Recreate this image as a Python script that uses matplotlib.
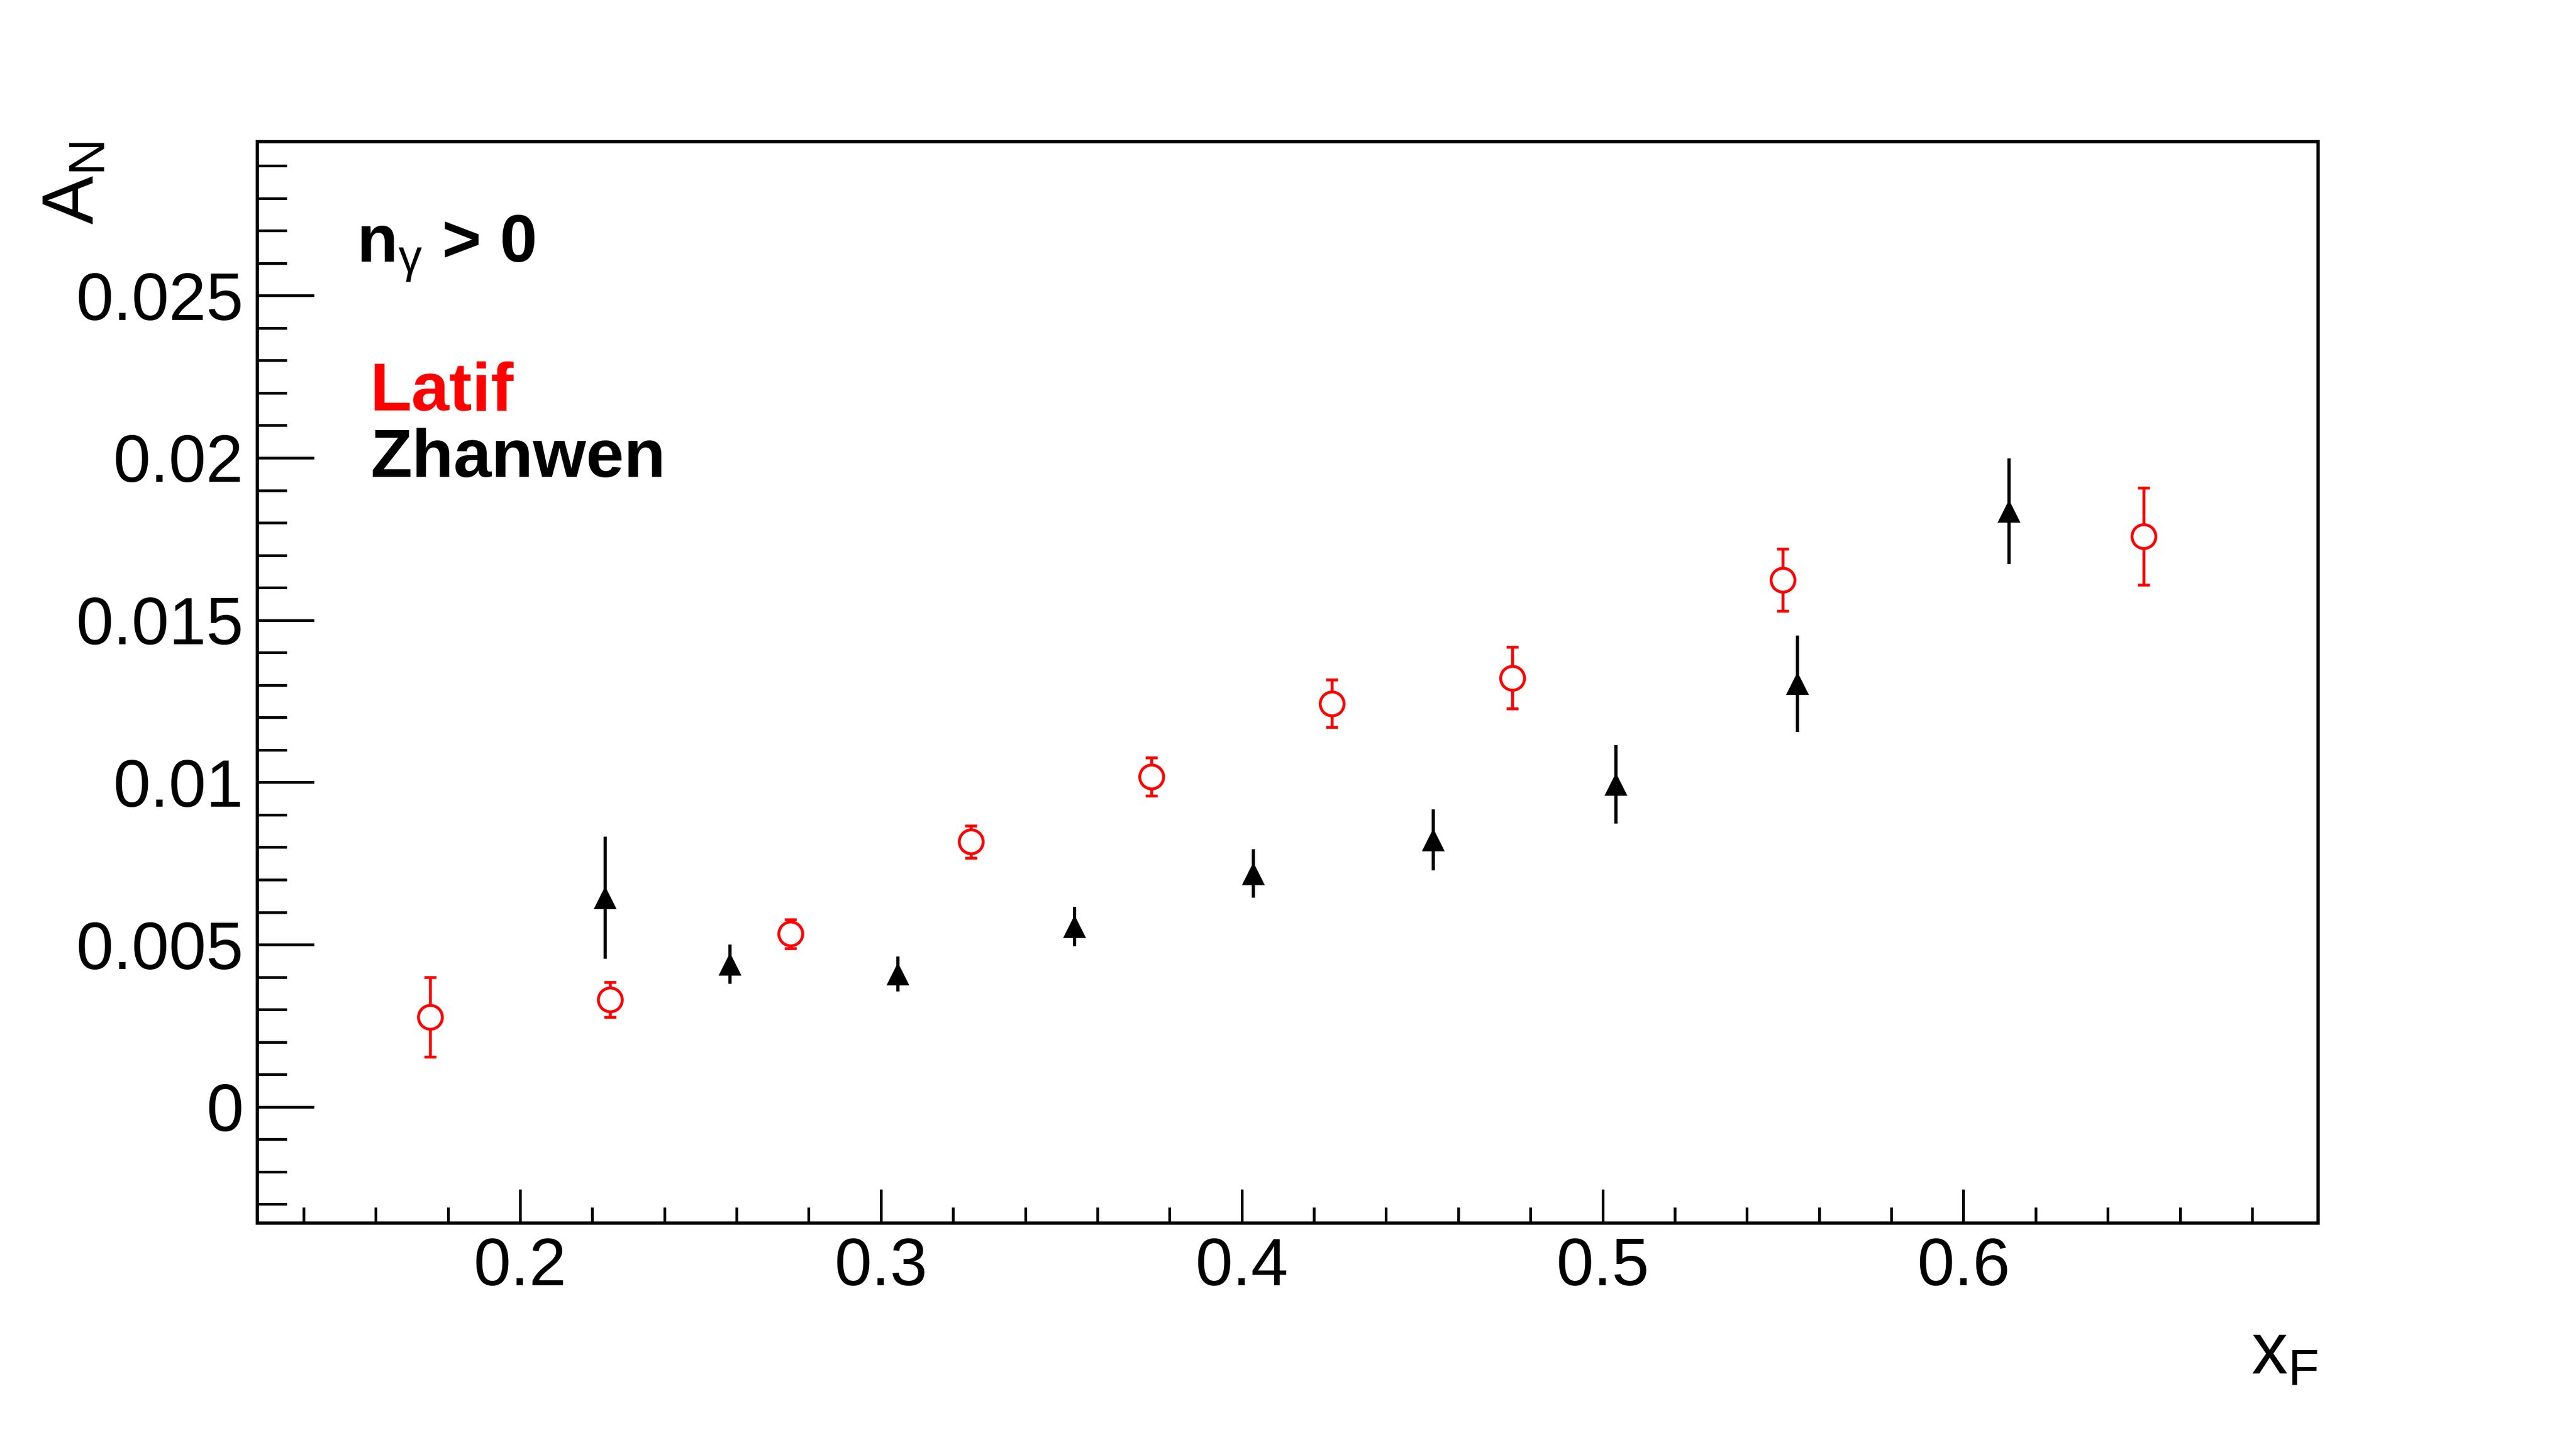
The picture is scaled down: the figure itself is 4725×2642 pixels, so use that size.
import matplotlib
matplotlib.use("Agg")
import matplotlib.pyplot as plt
from matplotlib.ticker import MultipleLocator, FixedLocator, FixedFormatter

# data (x_F, A_N, error)
latif_x = [0.175, 0.225, 0.275, 0.325, 0.375, 0.425, 0.475, 0.55, 0.65]
latif_y = [0.00277, 0.0033, 0.00533, 0.00817, 0.01017, 0.01243, 0.01322, 0.01624, 0.01758]
latif_err = [0.00122, 0.00054, 0.00045, 0.00049, 0.00059, 0.00073, 0.00095, 0.00096, 0.00149]

zhanwen_x = [0.2236, 0.2582, 0.3047, 0.3536, 0.4032, 0.4531, 0.5037, 0.554, 0.6127]
zhanwen_y = [0.00645, 0.0044, 0.0041, 0.00556, 0.00719, 0.00823, 0.00994, 0.01304, 0.01836]
zhanwen_err = [0.00188, 0.0006, 0.00054, 0.0006, 0.00075, 0.00094, 0.00121, 0.00149, 0.00163]

x_ticks = [0.2, 0.3, 0.4, 0.5, 0.6]
x_ticklabels = ["0.2", "0.3", "0.4", "0.5", "0.6"]
y_ticks = [0.0, 0.005, 0.01, 0.015, 0.02, 0.025]
y_ticklabels = ["0", "0.005", "0.01", "0.015", "0.02", "0.025"]

plt.rcParams['font.family'] = ['Liberation Sans', 'DejaVu Sans']
plt.rcParams['mathtext.fontset'] = 'custom'
plt.rcParams['mathtext.rm'] = 'Liberation Sans'
plt.rcParams['mathtext.it'] = 'Liberation Sans:italic'
plt.rcParams['mathtext.bf'] = 'Liberation Sans:bold'

fig = plt.figure(figsize=(4725 / 300, 2642 / 300), dpi=300)
ax = fig.add_axes([0.09979, 0.15064, 0.80011, 0.75095])

# Latif: open red circles
ax.errorbar(latif_x, latif_y, yerr=latif_err, fmt='o', color='#ff0000',
            mfc='white', mec='#ff0000', ms=10.5, mew=1.27,
            elinewidth=1.3, capsize=2.6, capthick=1.45, zorder=3)
# Zhanwen: filled black triangles
ax.errorbar(zhanwen_x, zhanwen_y, yerr=zhanwen_err, fmt='^', color='black',
            ms=10.3, mew=0, elinewidth=1.4, capsize=2.6, capthick=1.45, zorder=3)

ax.set_xlim(0.1271, 0.6983)
ax.set_ylim(-0.00358, 0.02974)

ax.xaxis.set_major_locator(FixedLocator(x_ticks))
ax.xaxis.set_major_formatter(FixedFormatter(x_ticklabels))
ax.xaxis.set_minor_locator(MultipleLocator(0.02))
ax.yaxis.set_major_locator(FixedLocator(y_ticks))
ax.yaxis.set_major_formatter(FixedFormatter(y_ticklabels))
ax.yaxis.set_minor_locator(MultipleLocator(0.001))

for s in ax.spines.values():
    s.set_linewidth(1.45)

ax.tick_params(axis='both', which='both', direction='in', width=1.2,
               top=False, right=False, labelsize=29.5)
ax.tick_params(axis='y', which='major', length=25, pad=6)
ax.tick_params(axis='y', which='minor', length=13)
ax.tick_params(axis='x', which='major', length=15, pad=6)
ax.tick_params(axis='x', which='minor', length=7)

# axis titles, ROOT style at the ends of the axes
fig.text(0.0364, 0.9016, r'$\mathrm{A}_{\mathrm{N}}$', fontsize=32,
         rotation=90, rotation_mode='anchor', ha='right', va='baseline')
fig.text(0.8999, 0.0462, r'$\mathrm{x}_{\mathrm{F}}$', fontsize=32,
         ha='right', va='baseline')

# labels
fig.text(0.1385, 0.818, r'n$_{\mathrm{\gamma}}$ > 0', fontsize=29.5, fontweight='bold',
         ha='left', va='baseline')
fig.text(0.1437, 0.715, 'Latif', fontsize=30, fontweight='bold', color='#ff0000',
         ha='left', va='baseline')
fig.text(0.1437, 0.669, 'Zhanwen', fontsize=30, fontweight='bold', color='black',
         ha='left', va='baseline')

fig.savefig('out.png', dpi=300)
